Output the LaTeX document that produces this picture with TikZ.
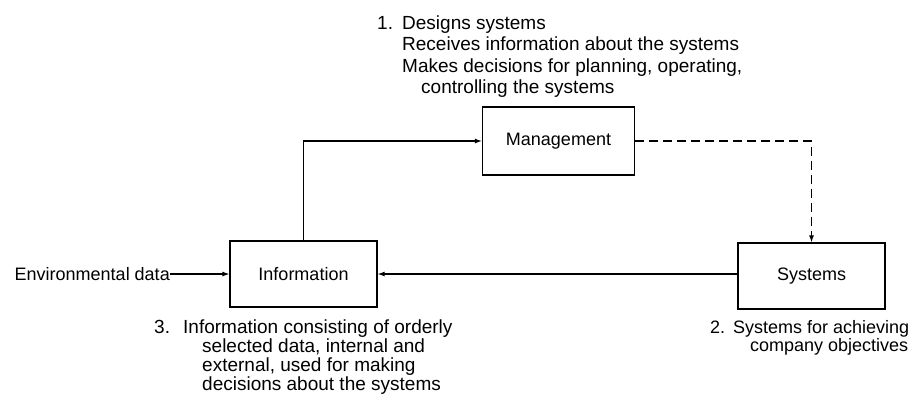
\documentclass[tikz,border=0pt]{standalone}
\usepackage{fontspec}
\setmainfont{Liberation Sans}
\usetikzlibrary{arrows.meta}
\begin{document}
\begin{tikzpicture}[x=1pt,y=-1pt,
  box/.style={draw, line width=1.2pt, inner sep=0pt,
    font=\fontsize{18}{21}\selectfont},
  flow/.style={line width=1.1pt, -{Latex[length=7pt,width=5pt]}},
  ctrl/.style={flow, dash pattern=on 9pt off 5pt},
  note/.style={anchor=base west, inner sep=0pt, align=left},
  wide/.style={font=\fontsize{19}{21.5}\selectfont},
  tight/.style={font=\fontsize{19}{18}\selectfont},
  small/.style={font=\fontsize{18}{17.5}\selectfont}]
\useasboundingbox (0,0) rectangle (913,399);

% the three blocks
\node[box, minimum width=152pt, minimum height=68pt] (mgmt) at (558.5,141) {Management};
\node[box, minimum width=147pt, minimum height=66pt] (info) at (303.5,274) {Information};
\node[box, minimum width=147pt, minimum height=66pt] (sys)  at (811.5,276) {Systems};

% outside input
\node[inner sep=0pt, anchor=east, font=\fontsize{18}{21}\selectfont] (env) at (170,274) {Environmental data};

% flows
\draw[flow] (env.east) -- (info.west);
\draw[flow] (info.north) |- (mgmt.west);
\draw[ctrl] (mgmt.east) -| (sys.north);
\draw[flow] (sys.west |- info.east) -- (info.east);

% annotations
\node[note, wide] (n1num) at (377,29) {1.};
\node[note, wide] (n1) at (402,29) {\begin{tabular}[t]{@{}l@{}}Designs systems\\
  Receives information about the systems\\
  Makes decisions for planning, operating,\\
  \hspace*{19pt}controlling the systems\end{tabular}};

\node[note, small] (n2num) at (710,333) {2.};
\node[note, small] (n2) at (733,333) {\begin{tabular}[t]{@{}l@{}}Systems for achieving\\
  \hspace*{17pt}company objectives\end{tabular}};

\node[note, tight] (n3num) at (154,333) {3.};
\node[note, tight] (n3) at (183,333) {\begin{tabular}[t]{@{}l@{}}Information consisting of orderly\\
  \hspace*{19pt}selected data, internal and\\
  \hspace*{19pt}external, used for making\\
  \hspace*{19pt}decisions about the systems\end{tabular}};
\end{tikzpicture}
\end{document}
